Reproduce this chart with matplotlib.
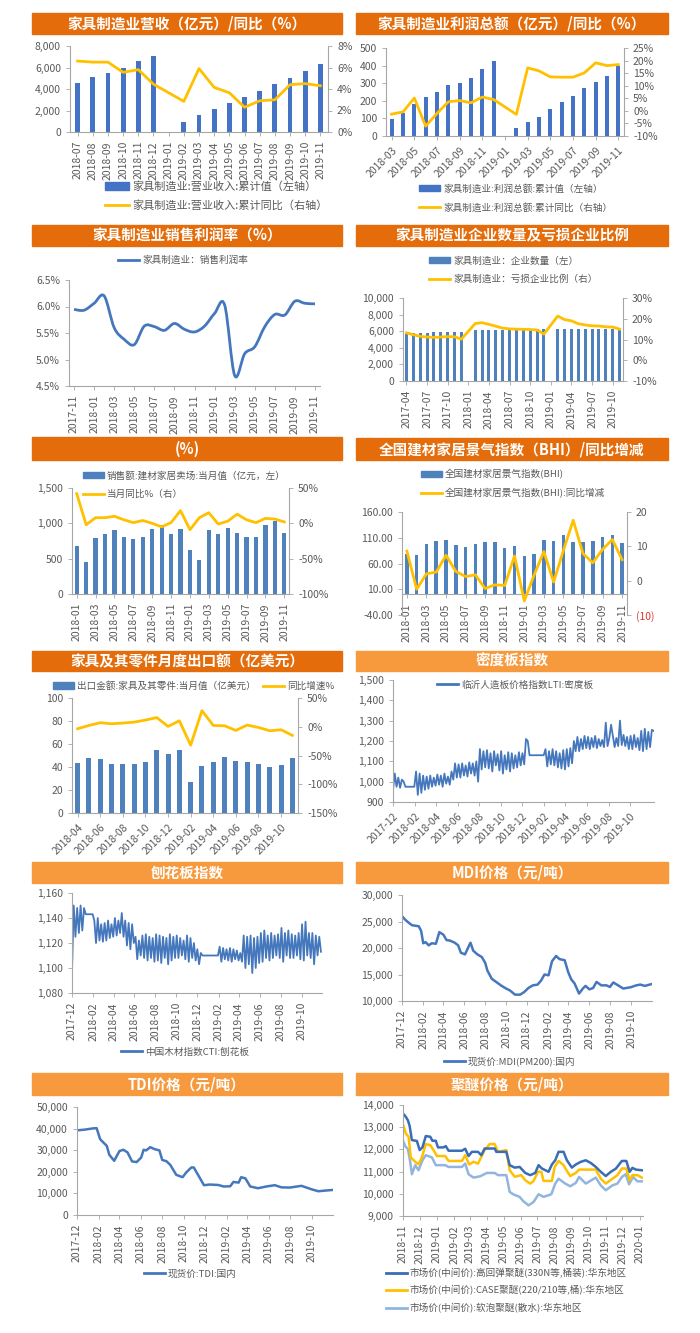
import matplotlib
matplotlib.use('Agg')
import matplotlib.pyplot as plt
import numpy as np
import pandas as pd
import matplotlib.dates as mdates
from matplotlib.patches import Rectangle, PathPatch
from matplotlib.path import Path
from matplotlib.lines import Line2D
from matplotlib.ticker import FuncFormatter, FixedLocator

plt.rcParams['font.family'] = ['Noto Sans CJK SC', 'DejaVu Sans']
plt.rcParams['axes.unicode_minus'] = False

# ---------------- DATA ----------------
# P1 营收
p1_cats = ['2018-07','2018-08','2018-09','2018-10','2018-11','2018-12','2019-01','2019-02','2019-03',
           '2019-04','2019-05','2019-06','2019-07','2019-08','2019-09','2019-10','2019-11']
p1_bars = [4550,5080,5480,6000,6620,7050,None,950,1580,2100,2680,3270,3850,4450,5020,5650,6300]
p1_line = [6.6,6.5,6.5,5.55,5.8,4.45,None,2.85,5.9,4.15,3.65,2.3,2.9,3.0,4.4,4.5,4.3]

# P2 利润
p2_cats = ['2018-03','2018-04','2018-05','2018-06','2018-07','2018-08','2018-09','2018-10','2018-11','2018-12',
           '2019-01','2019-02','2019-03','2019-04','2019-05','2019-06','2019-07','2019-08','2019-09','2019-10','2019-11']
p2_bars = [98,130,180,222,252,288,302,332,378,425,None,45,82,110,155,193,225,270,305,342,398]
p2_line = [-1.3,-0.4,5.1,-6.1,-1.0,3.6,4.1,3.2,5.5,4.5,None,-1.4,17.1,15.9,13.5,13.4,13.4,15.1,19.1,18.0,18.4]

# P3 销售利润率
p3_cats = ['2017-11','2017-12','2018-01','2018-02','2018-03','2018-04','2018-05','2018-06','2018-07','2018-08',
           '2018-09','2018-10','2018-11','2018-12','2019-01','2019-02','2019-03','2019-04','2019-05','2019-06',
           '2019-07','2019-08','2019-09','2019-10','2019-11']
p3_line = [5.945,5.93,6.06,6.2,5.6,5.38,5.28,5.63,5.62,5.55,5.68,5.57,5.52,5.63,5.87,6.03,4.7,5.11,5.24,5.62,
           5.85,5.84,6.1,6.06,6.05]

# P4 企业数量 / 亏损比例
p4_cats = ['2017-04','2017-05','2017-06','2017-07','2017-08','2017-09','2017-10','2017-11','2017-12',
           '2018-01','2018-02','2018-03','2018-04','2018-05','2018-06','2018-07','2018-08','2018-09','2018-10',
           '2018-11','2018-12','2019-01','2019-02','2019-03','2019-04','2019-05','2019-06','2019-07','2019-08',
           '2019-09','2019-10','2019-11']
p4_bars = [5700,5750,5800,5800,5850,5850,5900,5900,5950,None,6150,6150,6150,6150,6200,6200,6200,6200,6200,
           6250,6300,None,6300,6300,6300,6250,6250,6300,6300,6300,6300,6150]
p4_line = [13.2,12.3,11.5,11.2,11.0,11.2,11.4,11.3,10.2,None,17.7,18.1,17.3,16.4,15.5,15.1,15.0,14.9,14.8,
           14.6,12.6,None,21.3,19.6,19.0,17.6,17.0,16.6,16.5,16.1,16.0,15.0]

# P5 建材家居卖场
p5_cats = ['2018-01','2018-02','2018-03','2018-04','2018-05','2018-06','2018-07','2018-08','2018-09','2018-10',
           '2018-11','2018-12','2019-01','2019-02','2019-03','2019-04','2019-05','2019-06','2019-07','2019-08',
           '2019-09','2019-10','2019-11']
p5_bars = [680,450,790,855,910,805,775,800,920,970,845,920,620,485,910,845,935,860,810,805,980,1030,860]
p5_line = [42,-2,8,8,10,5,1,4,0,-5,1,18,-9,8,15,-1,3,13,5,1,7,6,2]

# P6 BHI
p6_cats = p5_cats
p6_bars = [79,77,97,103,105,95,93,97,102,102,91,94,75,78,106,103,115,102,101,103,111,115,99]
p6_line = [8.6,-2.5,2.0,2.5,7.4,2.7,1.2,1.7,-2.3,-1.2,-1.4,7.2,-5.9,1.6,8.5,-0.4,8.8,17.6,7.9,5.2,9.1,12.0,6.1]

# P7 出口
p7_cats = ['2018-04','2018-05','2018-06','2018-07','2018-08','2018-09','2018-10','2018-11','2018-12','2019-01',
           '2019-02','2019-03','2019-04','2019-05','2019-06','2019-07','2019-08','2019-09','2019-10','2019-11']
p7_bars = [43.5,47.5,47,43,43,43,44.5,55,51.5,55,26.7,41,44.5,49,45.5,44.5,42.6,40.3,42,48]
p7_line = [-3.5,2.3,7,5.2,6.4,8,11.6,16,0.6,10.4,-32,28,2.3,1.7,-6.4,2.9,-1.2,-7,-5.2,-15]

# P8 密度板 (5-day samples from 2017-12-01)
p8_vals = [960,1040,975,1020,970,1010,
           1000,975,975,975,975,975,975,
           1050,935,1040,945,1030,960,
           1025,965,1030,975,1020,980,
           1035,985,1030,975,1040,990,
           1025,985,1050,1010,1090,1020,
           1085,1020,1090,1030,1080,1025,
           1095,1040,1090,1030,1100,1000,
           1160,1060,1150,1070,1155,1065,
           1140,1050,1150,1080,1135,1055,
           1150,1040,1130,1060,1145,1050,
           1140,1065,1130,1070,1145,1080,
           1140,1085,1210,1200,1130,1130,1130,
           1130,1130,1130,1130,1130,1130,
           1160,1075,1150,1085,1160,1080,
           1150,1070,1140,1065,1155,1060,
           1160,1075,1165,1090,1200,1150,
           1220,1150,1210,1160,1225,1165,
           1220,1160,1215,1170,1225,1165,
           1210,1175,1205,1170,1290,1175,
           1215,1280,1225,1170,1215,1175,
           1300,1180,1230,1175,1220,1160,
           1225,1160,1230,1170,1215,1155,
           1250,1150,1260,1160,1245,1170,
           1255,1250]

# P9 刨花板 (5-day samples from 2017-12-01)
p9_vals = [1097,1150,1125,1148,1128,1150,
           1130,1148,1143,1143,1143,1143,1143,
           1138,1120,1140,1122,1135,1121,
           1136,1122,1138,1124,1135,1125,
           1140,1126,1138,1128,1144,1125,
           1138,1118,1136,1115,1135,1120,
           1125,1107,1122,1110,1126,1108,
           1127,1106,1125,1108,1124,1105,
           1127,1106,1126,1104,1125,1108,
           1124,1103,1127,1106,1125,1108,
           1126,1108,1124,1110,1122,1107,
           1126,1105,1124,1108,1120,1106,
           1115,1103,1112,1110,1110,1110,1110,
           1110,1110,1110,1110,1110,1110,
           1117,1105,1116,1107,1115,1106,
           1116,1105,1115,1107,1114,1106,
           1112,1105,1126,1100,1125,1103,
           1126,1096,1124,1100,1125,1104,
           1128,1105,1130,1108,1126,1106,
           1128,1108,1126,1110,1127,1108,
           1132,1105,1128,1110,1130,1108,
           1127,1108,1126,1110,1128,1107,
           1135,1106,1137,1110,1128,1108,
           1128,1103,1126,1110,1125,1113]

# P10 MDI
p10_dates = ['2017-12-01','2017-12-11','2017-12-20','2017-12-30','2018-01-19','2018-01-26','2018-02-01','2018-02-08',
             '2018-02-17','2018-02-26','2018-03-10','2018-03-20','2018-04-01','2018-04-10','2018-04-20','2018-05-04',
             '2018-05-14','2018-05-22','2018-06-03','2018-06-13','2018-06-19','2018-06-27','2018-07-09','2018-07-22',
             '2018-08-01','2018-08-07','2018-08-20','2018-09-04','2018-09-18','2018-10-01','2018-10-12','2018-10-27',
             '2018-11-11','2018-11-23','2018-12-05','2018-12-18','2019-01-01','2019-01-11','2019-01-21','2019-02-02',
             '2019-02-12','2019-02-24','2019-03-06','2019-03-21','2019-03-31','2019-04-09','2019-04-19','2019-05-02',
             '2019-05-13','2019-05-21','2019-06-01','2019-06-12','2019-06-22','2019-07-06','2019-07-21','2019-07-31',
             '2019-08-10','2019-08-24','2019-09-08','2019-09-30','2019-10-16','2019-10-28','2019-11-10','2019-11-30']
p10_vals = [26000,25300,24800,24300,24100,23200,20900,21100,20500,20900,20800,23000,22500,21500,21400,21000,
            20500,19100,18800,20200,21000,19500,18800,18300,17200,15800,14200,13500,12850,12350,12000,11200,
            11200,11700,12450,12950,13100,13850,15000,14850,17500,18500,17900,17700,15500,14100,13300,11400,
            12350,12850,12200,12450,13600,12950,12950,12650,13500,12950,12350,12600,12950,13100,12850,13200]

# P11 TDI
p11_dates = ['2017-12-01','2017-12-22','2018-01-16','2018-01-26','2018-02-05','2018-02-14','2018-02-24','2018-03-03',
             '2018-03-17','2018-04-01','2018-04-12','2018-04-24','2018-05-07','2018-05-20','2018-06-02','2018-06-09',
             '2018-06-16','2018-06-28','2018-07-10','2018-07-24','2018-08-01','2018-08-13','2018-08-24','2018-09-10',
             '2018-09-28','2018-10-09','2018-10-23','2018-10-30','2018-11-15','2018-11-28','2018-12-15','2019-01-08',
             '2019-01-23','2019-02-11','2019-02-20','2019-03-07','2019-03-14','2019-03-26','2019-04-09','2019-05-01',
             '2019-05-25','2019-06-18','2019-07-07','2019-07-31','2019-09-02','2019-10-01','2019-10-20','2019-11-09',
             '2019-11-30']
p11_vals = [39200,39500,40100,40200,35100,33600,32000,27900,25100,29600,30200,29000,24800,24500,26600,30200,
            29900,31400,30500,29900,25500,24900,23200,18600,17500,19800,22000,22000,17500,13800,14100,13900,
            13200,13300,15300,15000,17500,17000,13200,12400,13200,13800,12800,12700,13500,11900,11000,11300,
            11600]

# P12 聚醚
p12a_dates = ['2018-11-01','2018-11-06','2018-11-10','2018-11-13','2018-11-17','2018-11-26','2018-12-01','2018-12-06',
              '2018-12-12','2018-12-20','2018-12-24','2018-12-30','2019-01-03','2019-01-13','2019-01-17','2019-01-22',
              '2019-02-15','2019-02-21','2019-02-27','2019-03-05','2019-03-16','2019-03-22','2019-03-28','2019-04-15',
              '2019-04-18','2019-05-06','2019-05-12','2019-05-21','2019-05-30','2019-06-09','2019-06-18','2019-06-27',
              '2019-07-03','2019-07-09','2019-07-21','2019-07-27','2019-08-02','2019-08-08','2019-08-17','2019-08-23',
              '2019-09-01','2019-09-08','2019-09-17','2019-09-26','2019-10-05','2019-10-14','2019-10-23','2019-11-01',
              '2019-11-10','2019-11-19','2019-11-30','2019-12-08','2019-12-14','2019-12-19','2019-12-25','2020-01-05']
p12a_vals = [13620,13470,13300,13050,12420,12380,11970,12090,12600,12570,12390,12390,12090,12090,12150,11940,
             11940,12030,11700,11890,11890,11740,12040,12040,11890,11890,11290,11180,11210,10940,10840,10940,
             11290,11140,10990,11320,11510,11890,11890,11510,11180,11320,11440,11510,11390,11210,10990,10800,
             10990,11130,11480,11480,10990,11170,11090,11060]
p12b_dates = ['2018-11-01','2018-11-06','2018-11-11','2018-11-15','2018-11-23','2018-11-29','2018-12-05','2018-12-12',
              '2018-12-20','2018-12-26','2019-01-01','2019-01-16','2019-01-22','2019-02-15','2019-02-21','2019-02-28',
              '2019-03-08','2019-03-16','2019-03-28','2019-04-06','2019-04-15','2019-04-21','2019-05-06','2019-05-12',
              '2019-05-21','2019-06-02','2019-06-09','2019-06-18','2019-06-24','2019-07-02','2019-07-08','2019-07-12',
              '2019-07-27','2019-08-01','2019-08-08','2019-08-17','2019-08-23','2019-08-29','2019-09-08','2019-09-14',
              '2019-10-14','2019-10-23','2019-11-01','2019-11-13','2019-11-22','2019-11-30','2019-12-08','2019-12-14',
              '2019-12-19','2019-12-28','2020-01-05']
p12b_vals = [13130,12720,12570,11640,11440,11330,11640,12240,12190,11970,11700,11700,11480,11480,11740,11320,
             11440,11360,11970,12240,12240,11890,11970,11060,10770,10840,10610,10460,10580,10990,10990,10580,
             10580,11210,11480,11290,11030,10800,10940,11090,11090,10680,10460,10680,10840,11140,11140,10610,
             10840,10840,10730]
p12c_dates = ['2018-11-01','2018-11-05','2018-11-10','2018-11-14','2018-11-17','2018-11-23','2018-11-29','2018-12-06',
              '2018-12-12','2018-12-23','2018-12-30','2019-01-16','2019-01-22','2019-02-15','2019-02-21','2019-02-27',
              '2019-03-08','2019-03-20','2019-04-01','2019-04-15','2019-04-21','2019-05-06','2019-05-12','2019-05-18',
              '2019-05-30','2019-06-05','2019-06-15','2019-06-24','2019-07-03','2019-07-12','2019-07-26','2019-08-02',
              '2019-08-08','2019-08-20','2019-08-29','2019-09-08','2019-09-14','2019-09-26','2019-10-08','2019-10-14',
              '2019-10-23','2019-11-01','2019-11-13','2019-11-22','2019-11-30','2019-12-07','2019-12-13','2019-12-20',
              '2019-12-28','2020-01-05']
p12c_vals = [12390,12150,12000,11440,10880,11290,11060,11510,11740,11640,11290,11290,11210,11210,11360,10880,
             10730,10790,10940,10940,10840,10840,10090,9980,9860,9680,9480,9630,9980,9860,9980,10460,
             10680,10460,10340,10490,10760,10460,10640,10730,10380,10160,10380,10460,10760,10880,10430,10760,
             10560,10560]

# ---------------- STYLE ----------------
W, H = 700, 1333
fig = plt.figure(figsize=(7, 13.33), dpi=100)
DARK = '#E46C0A'; LIGHT = '#F79A3E'
BAR = '#4472C4'; BAR2 = '#4F81BD'; YEL = '#FFC000'; LINE = '#4577BD'
TXT = '#595959'; SPN = '#A6A6A6'
TS = 7.5; LS = 6.9


def banner(x0, y0, x1, y1, text, color):
    fig.add_artist(Rectangle((x0 / W, 1 - y1 / H), (x1 - x0) / W, (y1 - y0) / H,
                             transform=fig.transFigure, color=color, zorder=0))
    fig.text((x0 + x1) / 2 / W, 1 - (y0 + y1) / 2 / H, text, color='white', fontsize=10.5,
             fontweight='bold', ha='center', va='center')


def style(ax):
    ax.spines['top'].set_visible(False)
    ax.spines['right'].set_visible(False)
    for s in ['left', 'bottom', 'right']:
        ax.spines[s].set_color(SPN)
        ax.spines[s].set_linewidth(0.8)
    ax.tick_params(colors=TXT, labelsize=TS, length=3, width=0.6, color=SPN)
    ax.tick_params(axis='both', labelcolor=TXT)
    ax.set_facecolor('none')


def axes_px(l, t, r, b):
    ax = fig.add_axes([l / W, 1 - b / H, (r - l) / W, (b - t) / H])
    style(ax)
    return ax


def twin(ax):
    ax2 = ax.twinx()
    style(ax2)
    ax2.spines['left'].set_visible(False)
    ax2.spines['bottom'].set_visible(False)
    ax2.spines['right'].set_visible(True)
    return ax2


def thous(ax):
    ax.yaxis.set_major_formatter(FuncFormatter(lambda v, p: f'{v:,.0f}'))


def pct(ax, fmt='{:.0f}%'):
    ax.yaxis.set_major_formatter(FuncFormatter(lambda v, p: fmt.format(v)))


def nn(vals):
    xs = [i for i, v in enumerate(vals) if v is not None]
    ys = [v for v in vals if v is not None]
    return xs, ys


def cat_ticks(ax, cats, step, rot):
    idx = list(range(0, len(cats), step))
    ax.set_xticks(idx)
    if rot == 90:
        ax.set_xticklabels([cats[i] for i in idx], rotation=90, ha='center', va='top')
    else:
        ax.set_xticklabels([cats[i] for i in idx], rotation=45, ha='right', rotation_mode='anchor')
    ax.set_xlim(-0.5, len(cats) - 0.5)


def legend(handles, labels, x, y, ncol=1, loc='upper left', fs=LS, ls=0.95, **kw):
    lg = fig.legend(handles, labels, loc=loc, bbox_to_anchor=(x / W, 1 - y / H), frameon=False,
                    fontsize=fs, ncol=ncol, handlelength=2.2, handleheight=0.6, handletextpad=0.3,
                    labelspacing=ls, borderaxespad=0, borderpad=0, **kw)
    for t in lg.get_texts():
        t.set_color(TXT)
    return lg


def barh(c):
    return Rectangle((0, 0), 1, 1, color=c)


def lineh(c):
    return Line2D([], [], color=c, lw=2)


def smooth_path(xs, ys):
    pts = np.column_stack([xs, ys]).astype(float)
    n = len(pts)
    verts = [pts[0]]
    codes = [Path.MOVETO]
    for i in range(n - 1):
        p0 = pts[i - 1] if i > 0 else pts[i]
        p1 = pts[i]
        p2 = pts[i + 1]
        p3 = pts[i + 2] if i + 2 < n else pts[i + 1]
        verts += [p1 + (p2 - p0) / 6, p2 - (p3 - p1) / 6, p2]
        codes += [Path.CURVE4] * 3
    return Path(verts, codes)


def date_axis(ax, start, end, tick_start, tick_end, freq, rot):
    ax.set_xlim(pd.Timestamp(start), pd.Timestamp(end))
    ticks = pd.date_range(tick_start, tick_end, freq=freq)
    ax.set_xticks(ticks)
    ax.set_xticklabels([t.strftime('%Y-%m') for t in ticks])
    if rot == 90:
        plt.setp(ax.get_xticklabels(), rotation=90, ha='center', va='top')
    else:
        plt.setp(ax.get_xticklabels(), rotation=45, ha='right', rotation_mode='anchor')


# ---------------- P1 ----------------
banner(32, 13, 342, 34, '家具制造业营收（亿元）/同比（%）', DARK)
ax = axes_px(70, 46, 328, 132)
x, y = nn(p1_bars)
ax.bar(x, y, width=0.32, color=BAR)
ax.set_ylim(0, 8000); ax.set_yticks(range(0, 8001, 2000)); thous(ax)
cat_ticks(ax, p1_cats, 1, 90)
a2 = twin(ax)
x, y = nn(p1_line)
a2.plot(x, y, color=YEL, lw=2)
a2.set_ylim(0, 8); a2.set_yticks(range(0, 9, 2)); pct(a2)
legend([barh(BAR), lineh(YEL)], ['家具制造业:营业收入:累计值（左轴）', '家具制造业:营业收入:累计同比（右轴）'],
       105, 181, fs=8.0, ls=0.75)

# ---------------- P2 ----------------
banner(356, 13, 668, 34, '家具制造业利润总额（亿元）/同比（%）', DARK)
ax = axes_px(386, 48, 624, 136)
x, y = nn(p2_bars)
ax.bar(x, y, width=0.33, color=BAR)
ax.set_ylim(0, 500); ax.set_yticks(range(0, 501, 100))
cat_ticks(ax, p2_cats, 2, 45)
a2 = twin(ax)
x, y = nn(p2_line)
a2.plot(x, y, color=YEL, lw=2)
a2.set_ylim(-10, 25); a2.set_yticks(range(-10, 26, 5)); pct(a2)
legend([barh(BAR), lineh(YEL)], ['家具制造业:利润总额:累计值（左轴）', '家具制造业:利润总额:累计同比（右轴）'], 419, 184)

# ---------------- P3 ----------------
banner(32, 225, 342, 246, '家具制造业销售利润率（%）', DARK)
ax = axes_px(69, 280, 320, 386)
xs = np.arange(len(p3_line))
ax.add_patch(PathPatch(smooth_path(xs, p3_line), fill=False, edgecolor=LINE, lw=2))
ax.set_ylim(4.5, 6.5); ax.set_yticks([4.5, 5.0, 5.5, 6.0, 6.5]); pct(ax, '{:.1f}%')
cat_ticks(ax, p3_cats, 2, 90)
legend([lineh(LINE)], ['家具制造业：销售利润率'], 118, 260, loc='center left')

# ---------------- P4 ----------------
banner(356, 225, 668, 246, '家具制造业企业数量及亏损企业比例', DARK)
ax = axes_px(403, 298, 623, 381)
x, y = nn(p4_bars)
ax.bar(x, y, width=0.42, color=BAR2)
ax.set_ylim(0, 10000); ax.set_yticks(range(0, 10001, 2000)); thous(ax)
cat_ticks(ax, p4_cats, 3, 90)
a2 = twin(ax)
x, y = nn(p4_line)
a2.plot(x, y, color=YEL, lw=2)
a2.set_ylim(-10, 30); a2.set_yticks(range(-10, 31, 10)); pct(a2)
legend([barh(BAR2), lineh(YEL)], ['家具制造业：企业数量（左）', '家具制造业：亏损企业比例（右）'], 429, 256)

# ---------------- P5 ----------------
banner(32, 437, 342, 460, '(%)', DARK)
ax = axes_px(72, 488, 289, 594)
ax.bar(range(len(p5_bars)), p5_bars, width=0.45, color=BAR2)
ax.set_ylim(0, 1500); ax.set_yticks(range(0, 1501, 500)); thous(ax)
cat_ticks(ax, p5_cats, 2, 90)
a2 = twin(ax)
a2.plot(range(len(p5_line)), p5_line, color=YEL, lw=2)
a2.set_ylim(-100, 50); a2.set_yticks(range(-100, 51, 50)); pct(a2)
legend([barh(BAR2), lineh(YEL)], ['销售额:建材家居卖场:当月值（亿元，左）', '当月同比%（右）'], 83, 471)

# ---------------- P6 ----------------
banner(356, 438, 668, 460, '全国建材家居景气指数（BHI）/同比增减', DARK)
ax = axes_px(402, 512, 627, 615)
ax.bar(range(len(p6_bars)), p6_bars, width=0.36, color=BAR2)
ax.set_ylim(-40, 160); ax.set_yticks([-40, 10, 60, 110, 160])
ax.yaxis.set_major_formatter(FuncFormatter(lambda v, p: f'{v:.2f}'))
ax.spines['bottom'].set_position(('data', 0))
cat_ticks(ax, p6_cats, 2, 90)
a2 = twin(ax)
a2.plot(range(len(p6_line)), p6_line, color=YEL, lw=2)
a2.set_ylim(-10, 20); a2.set_yticks([-10, 0, 10, 20])
a2.set_yticklabels(['(10)', '0', '10', '20'])
a2.get_yticklabels()[0].set_color('#E03030')
legend([barh(BAR2), lineh(YEL)], ['全国建材家居景气指数(BHI)', '全国建材家居景气指数(BHI):同比增减'], 421, 469)

# ---------------- P7 ----------------
banner(32, 651, 342, 671, '家具及其零件月度出口额（亿美元）', DARK)
ax = axes_px(72, 698, 298, 813)
ax.bar(range(len(p7_bars)), p7_bars, width=0.45, color=BAR2)
ax.set_ylim(0, 100); ax.set_yticks(range(0, 101, 20))
cat_ticks(ax, p7_cats, 2, 45)
a2 = twin(ax)
a2.plot(range(len(p7_line)), p7_line, color=YEL, lw=2)
a2.set_ylim(-150, 50); a2.set_yticks(range(-150, 51, 50)); pct(a2)
legend([barh(BAR2), lineh(YEL)], ['出口金额:家具及其零件:当月值（亿美元）', '同比增速%'], 53, 686,
       ncol=2, loc='center left', columnspacing=0.8)

# ---------------- P8 ----------------
banner(356, 651, 668, 671, '密度板指数', LIGHT)
ax = axes_px(393, 680, 654, 802)
d8 = pd.date_range('2017-12-01', periods=len(p8_vals), freq='5D')
ax.plot(d8, p8_vals, color=LINE, lw=1.3)
ax.set_ylim(900, 1500); ax.set_yticks(range(900, 1501, 100)); thous(ax)
date_axis(ax, '2017-12-01', '2019-12-07', '2017-12-01', '2019-10-01', '2MS', 45)
legend([lineh(LINE)], ['临沂人造板价格指数LTI:密度板'], 437, 685, loc='center left')

# ---------------- P9 ----------------
banner(32, 862, 342, 883, '刨花板指数', LIGHT)
ax = axes_px(72, 893, 322, 993)
d9 = pd.date_range('2017-12-01', periods=len(p9_vals), freq='5D')
ax.plot(d9, p9_vals, color=LINE, lw=1.3)
ax.set_ylim(1080, 1160); ax.set_yticks(range(1080, 1161, 20)); thous(ax)
date_axis(ax, '2017-12-01', '2019-11-29', '2017-12-01', '2019-10-01', '2MS', 90)
legend([lineh(LINE)], ['中国木材指数CTI:刨花板'], 121, 1052, loc='center left')

# ---------------- P10 ----------------
banner(356, 862, 668, 883, 'MDI价格（元/吨）', LIGHT)
ax = axes_px(402, 895, 652, 1001)
ax.plot(pd.to_datetime(p10_dates), p10_vals, color=LINE, lw=1.8)
ax.set_ylim(10000, 30000); ax.set_yticks(range(10000, 30001, 5000)); thous(ax)
date_axis(ax, '2017-12-01', '2019-12-01', '2017-12-01', '2019-10-01', '2MS', 90)
legend([lineh(LINE)], ['现货价:MDI(PM200):国内'], 444, 1061, loc='center left')

# ---------------- P11 ----------------
banner(32, 1073, 342, 1095, 'TDI价格（元/吨）', LIGHT)
ax = axes_px(77, 1107, 333, 1215)
ax.plot(pd.to_datetime(p11_dates), p11_vals, color=LINE, lw=1.8)
ax.set_ylim(0, 50000); ax.set_yticks(range(0, 50001, 10000)); thous(ax)
date_axis(ax, '2017-12-01', '2019-12-01', '2017-12-01', '2019-10-01', '2MS', 90)
legend([lineh(LINE)], ['现货价:TDI:国内'], 144, 1274, loc='center left')

# ---------------- P12 ----------------
banner(356, 1073, 668, 1095, '聚醚价格（元/吨）', LIGHT)
ax = axes_px(403, 1105, 643, 1216)
C1, C2, C3 = '#3A6DB5', '#FFC000', '#92B5E0'
ax.plot(pd.to_datetime(p12c_dates), p12c_vals, color=C3, lw=1.8)
ax.plot(pd.to_datetime(p12b_dates), p12b_vals, color=C2, lw=1.8)
ax.plot(pd.to_datetime(p12a_dates), p12a_vals, color=C1, lw=1.8)
ax.set_ylim(9000, 14000); ax.set_yticks(range(9000, 14001, 1000)); thous(ax)
date_axis(ax, '2018-11-01', '2020-01-07', '2018-11-01', '2020-01-01', 'MS', 90)
legend([lineh(C1), lineh(C2), lineh(C3)],
       ['市场价(中间价):高回弹聚醚(330N等,桶装):华东地区',
        '市场价(中间价):CASE聚醚(220/210等,桶):华东地区',
        '市场价(中间价):软泡聚醚(散水):华东地区'], 386, 1268, ls=0.75)

fig.savefig('out.png', dpi=100)
